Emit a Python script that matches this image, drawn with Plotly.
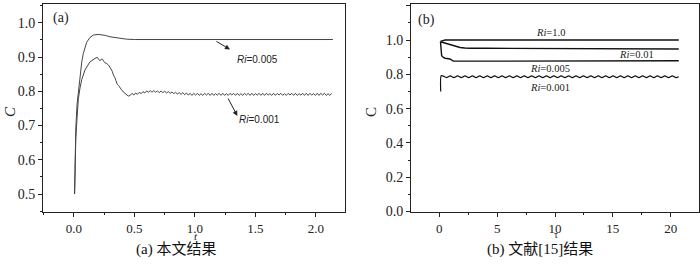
import plotly.graph_objects as go

# ---------------- Data: panel (a) ----------------
t_a005 = [0.005, 0.008, 0.015, 0.025, 0.036, 0.05, 0.064, 0.077, 0.09, 0.105, 0.132, 0.16, 0.2, 0.229,
          0.26, 0.298, 0.33, 0.366, 0.4, 0.435, 0.5, 1.0, 1.5, 2.14]
c_a005 = [0.50, 0.60, 0.69, 0.76, 0.80, 0.85, 0.885, 0.91, 0.928, 0.943, 0.957, 0.964, 0.966, 0.965,
          0.963, 0.959, 0.957, 0.955, 0.953, 0.952, 0.951, 0.951, 0.951, 0.951]

t_a001 = [0.005, 0.008, 0.015, 0.025, 0.036, 0.05, 0.064, 0.091, 0.132, 0.174, 0.193, 0.205, 0.215, 0.226,
          0.237, 0.247, 0.256, 0.27, 0.284, 0.298, 0.311, 0.318, 0.325, 0.332, 0.339, 0.346, 0.358,
          0.368, 0.38, 0.39, 0.408, 0.42, 0.435, 0.449,
          0.465, 0.48, 0.495, 0.51, 0.525, 0.54, 0.555, 0.57, 0.585, 0.6, 0.615, 0.63, 0.645, 0.66,
          0.675, 0.69, 0.705, 0.72, 0.735, 0.75, 0.765, 0.78, 0.795, 0.81, 0.825, 0.84, 0.855, 0.87,
          0.885, 0.9, 0.915, 0.93, 0.945, 0.96, 0.975, 0.99, 1.005, 1.02, 1.035, 1.05, 1.065, 1.08,
          1.095, 1.11, 1.125, 1.14, 1.155, 1.17, 1.185, 1.2, 1.215, 1.23, 1.245, 1.26, 1.275, 1.29,
          1.305, 1.32, 1.335, 1.35, 1.365, 1.38, 1.395, 1.41, 1.425, 1.44, 1.455, 1.47, 1.485, 1.5,
          1.515, 1.53, 1.545, 1.56, 1.575, 1.59, 1.605, 1.62, 1.635, 1.65, 1.665, 1.68, 1.695, 1.71,
          1.725, 1.74, 1.755, 1.77, 1.785, 1.8, 1.815, 1.83, 1.845, 1.86, 1.875, 1.89, 1.905, 1.92,
          1.935, 1.95, 1.965, 1.98, 1.995, 2.01, 2.025, 2.04, 2.055, 2.07, 2.085, 2.1, 2.115, 2.13]
c_a001 = [0.50, 0.58, 0.66, 0.72, 0.777, 0.81, 0.834, 0.862, 0.886, 0.896, 0.899, 0.893, 0.889, 0.894,
          0.893, 0.887, 0.883, 0.881, 0.877, 0.87, 0.862, 0.857, 0.848, 0.845, 0.839, 0.832, 0.82,
          0.817, 0.81, 0.806, 0.798, 0.795, 0.791, 0.786,
          0.788, 0.794, 0.789, 0.795, 0.791, 0.797, 0.793, 0.799, 0.795, 0.801, 0.797, 0.802, 0.797, 0.802,
          0.797, 0.801, 0.796, 0.801, 0.796, 0.800, 0.795, 0.799, 0.794, 0.798, 0.793, 0.797, 0.792, 0.796,
          0.791, 0.796, 0.790, 0.795, 0.789, 0.794, 0.788, 0.794, 0.789, 0.794, 0.788, 0.793, 0.788, 0.794,
          0.789, 0.794, 0.788, 0.794, 0.788, 0.793, 0.789, 0.794, 0.788, 0.794, 0.788, 0.793, 0.788, 0.794,
          0.789, 0.794, 0.788, 0.794, 0.788, 0.793, 0.788, 0.794, 0.789, 0.794, 0.788, 0.794, 0.788, 0.793,
          0.789, 0.794, 0.788, 0.794, 0.788, 0.794, 0.789, 0.793, 0.788, 0.794, 0.788, 0.794, 0.789, 0.794,
          0.788, 0.793, 0.788, 0.794, 0.789, 0.794, 0.788, 0.794, 0.788, 0.793, 0.789, 0.794, 0.788, 0.794,
          0.788, 0.794, 0.789, 0.793, 0.788, 0.794, 0.788, 0.794, 0.789, 0.794, 0.788, 0.793, 0.788, 0.794]

# ---------------- Data: panel (b) ----------------
tau_b10 = [0.1, 0.3, 0.5, 1.0, 20.7]
c_b10 = [0.992, 0.997, 1.0, 1.0, 1.0]

tau_b001 = [0.1, 0.35, 0.64, 0.92, 1.2, 1.5, 1.79, 2.2, 2.65, 4.0, 6.5, 6.6, 20.7]
c_b001 = [0.99, 0.985, 0.98, 0.972, 0.966, 0.961, 0.957, 0.954, 0.952, 0.952, 0.952, 0.948, 0.948]

tau_b0005 = [0.1, 0.13, 0.2, 0.35, 0.5, 0.92, 1.1, 1.21, 2.0, 3.4, 3.6, 20.7]
c_b0005 = [0.99, 0.95, 0.909, 0.899, 0.894, 0.89, 0.882, 0.877, 0.877, 0.877, 0.879, 0.879]

tau_b0001 = [0.12, 0.16, 0.3, 0.62, 0.94, 1.26, 1.58, 1.9, 2.22, 2.54, 2.86, 3.18, 3.5, 3.82, 4.14,
             4.46, 4.78, 5.1, 5.42, 5.74, 6.06, 6.38, 6.7, 7.02, 7.34, 7.66, 7.98, 8.3, 8.62, 8.94,
             9.26, 9.58, 9.9, 10.22, 10.54, 10.86, 11.18, 11.5, 11.82, 12.14, 12.46, 12.78, 13.1,
             13.42, 13.74, 14.06, 14.38, 14.7, 15.02, 15.34, 15.66, 15.98, 16.3, 16.62, 16.94, 17.26,
             17.58, 17.9, 18.22, 18.54, 18.86, 19.18, 19.5, 19.82, 20.14, 20.46, 20.7]
c_b0001 = [0.70, 0.792, 0.791, 0.781, 0.791, 0.781, 0.791, 0.781, 0.791, 0.781, 0.791, 0.781, 0.791,
           0.781, 0.791, 0.781, 0.791, 0.781, 0.791, 0.781, 0.791, 0.781, 0.791, 0.781, 0.791, 0.781,
           0.791, 0.781, 0.791, 0.781, 0.791, 0.781, 0.791, 0.781, 0.791, 0.781, 0.791, 0.781, 0.791,
           0.781, 0.791, 0.781, 0.791, 0.781, 0.791, 0.781, 0.791, 0.781, 0.791, 0.781, 0.791, 0.781,
           0.791, 0.781, 0.791, 0.781, 0.791, 0.781, 0.791, 0.781, 0.791, 0.781, 0.791, 0.781, 0.791,
           0.781, 0.786]

ticks_a_x = [0.0, 0.5, 1.0, 1.5, 2.0]
ticks_a_y = [0.5, 0.6, 0.7, 0.8, 0.9, 1.0]
ticks_b_x = [0, 5, 10, 15, 20]
ticks_b_y = [0.0, 0.2, 0.4, 0.6, 0.8, 1.0, 1.2]

# ---------------- Figure ----------------
W, H = 700, 264
SERIF = "Liberation Serif"
CJK = "Liberation Serif, Noto Sans CJK SC"
LCOL_A = "#454545"
LCOL_B = "#111111"

fig = go.Figure()
fig.add_trace(go.Scatter(x=t_a005, y=c_a005, mode="lines", line=dict(color=LCOL_A, width=1.0),
                         xaxis="x", yaxis="y"))
fig.add_trace(go.Scatter(x=t_a001, y=c_a001, mode="lines", line=dict(color=LCOL_A, width=1.0),
                         xaxis="x", yaxis="y"))
fig.add_trace(go.Scatter(x=tau_b10, y=c_b10, mode="lines", line=dict(color=LCOL_B, width=1.4),
                         xaxis="x2", yaxis="y2"))
fig.add_trace(go.Scatter(x=tau_b001, y=c_b001, mode="lines", line=dict(color=LCOL_B, width=1.4),
                         xaxis="x2", yaxis="y2"))
fig.add_trace(go.Scatter(x=tau_b0005, y=c_b0005, mode="lines", line=dict(color=LCOL_B, width=1.4),
                         xaxis="x2", yaxis="y2"))
fig.add_trace(go.Scatter(x=tau_b0001, y=c_b0001, mode="lines", line=dict(color=LCOL_B, width=1.2, shape="spline", smoothing=0.8),
                         xaxis="x2", yaxis="y2"))

def ax_common(**kw):
    d = dict(showgrid=False, zeroline=False, showline=True, mirror=True, linecolor="#222",
             linewidth=1, ticks="outside", ticklen=4, tickwidth=1, tickcolor="#222",
             tickfont=dict(family=SERIF, size=14, color="#222"))
    d.update(kw)
    return d

y0 = 1 - 218 / H
y1 = 1 - 4 / H
fig.update_layout(
    width=W, height=H, margin=dict(l=0, r=0, t=0, b=0),
    font=dict(family=SERIF),
    paper_bgcolor="white", plot_bgcolor="white", showlegend=False,
    xaxis=ax_common(domain=[43 / W, 345 / W], range=[-0.256, 2.24], tickvals=ticks_a_x,
                    ticktext=[f"{v:.1f}" for v in ticks_a_x], tickfont=dict(family=SERIF, size=13, color="#222"),
                    minor=dict(dtick=0.25, tick0=0, ticklen=2, ticks="outside", tickcolor="#222"),
                    anchor="y"),
    yaxis=ax_common(domain=[y0, y1], range=[0.447, 1.055], tickvals=ticks_a_y,
                    ticktext=[f"{v:.1f}" for v in ticks_a_y],
                    minor=dict(dtick=0.05, tick0=0, ticklen=2, ticks="outside", tickcolor="#222"),
                    anchor="x"),
    xaxis2=ax_common(domain=[411 / W, 699 / W], range=[-2.45, 22.45], tickvals=ticks_b_x,
                     ticktext=[str(v) for v in ticks_b_x], tickfont=dict(family=SERIF, size=13, color="#222"),
                     minor=dict(dtick=2.5, tick0=0, ticklen=2, ticks="outside", tickcolor="#222"),
                     anchor="y2"),
    yaxis2=ax_common(domain=[y0, y1], range=[-0.004, 1.211], tickvals=ticks_b_y,
                     ticktext=[f"{v:.1f}" for v in ticks_b_y],
                     minor=dict(dtick=0.1, tick0=0, ticklen=2, ticks="outside", tickcolor="#222"),
                     anchor="x2"),
)

ann = []
# panel labels
ann.append(dict(text="(a)", xref="paper", yref="paper", x=61 / W, y=1 - 19 / H, showarrow=False,
                font=dict(family=SERIF, size=14, color="#222"), xanchor="center", yanchor="middle"))
ann.append(dict(text="(b)", xref="paper", yref="paper", x=426 / W, y=1 - 21 / H, showarrow=False,
                font=dict(family=SERIF, size=14, color="#222"), xanchor="center", yanchor="middle"))
# axis titles
ann.append(dict(text="<i>C</i>", xref="paper", yref="paper", x=10 / W, y=1 - 115 / H, showarrow=False,
                textangle=-90, font=dict(family=SERIF, size=15, color="#222"), xanchor="center", yanchor="middle"))
ann.append(dict(text="C", xref="paper", yref="paper", x=371 / W, y=1 - 115 / H, showarrow=False,
                textangle=-90, font=dict(family=SERIF, size=15, color="#222"), xanchor="center", yanchor="middle"))
ann.append(dict(text="<i>t</i>", xref="paper", yref="paper", x=196 / W, y=1 - 242.5 / H, showarrow=False,
                font=dict(family=SERIF, size=11, color="#222"), xanchor="center", yanchor="middle",
                borderpad=0))
ann.append(dict(text="τ", xref="paper", yref="paper", x=556 / W, y=1 - 241 / H, showarrow=False,
                font=dict(family=SERIF, size=10, color="#222"), xanchor="center", yanchor="middle",
                borderpad=0))
# captions
ann.append(dict(text="(a) 本文结果", xref="paper", yref="paper", x=176 / W, y=1 - 256.5 / H, showarrow=False,
                font=dict(family=CJK, size=15, color="#111"), xanchor="center", yanchor="middle", borderpad=0))
ann.append(dict(text="(b) 文献[15]结果", xref="paper", yref="paper", x=540 / W, y=1 - 256.5 / H, showarrow=False,
                font=dict(family=CJK, size=15, color="#111"), xanchor="center", yanchor="middle", borderpad=0))
# curve labels panel (a), with arrows
ann.append(dict(text="", x=1.289, y=0.922, xref="x", yref="y", ax=-15, ay=-9, showarrow=True,
                arrowhead=2, arrowsize=1, arrowwidth=1, arrowcolor="#222"))
ann.append(dict(text="", x=1.35, y=0.728, xref="x", yref="y", ax=-10, ay=-19, showarrow=True,
                arrowhead=2, arrowsize=1, arrowwidth=1, arrowcolor="#222"))
ann.append(dict(text="<i>Ri</i>=0.005", x=1.52, y=0.893, xref="x", yref="y", showarrow=False,
                font=dict(family="Liberation Sans", size=10, color="#222")))
ann.append(dict(text="<i>Ri</i>=0.001", x=1.537, y=0.718, xref="x", yref="y", showarrow=False,
                font=dict(family="Liberation Sans", size=10, color="#222")))
# curve labels panel (b)
for txt, xx, yy in [("<i>Ri</i>=1.0", 9.57, 1.046), ("<i>Ri</i>=0.01", 17.07, 0.916),
                    ("<i>Ri</i>=0.005", 9.6, 0.836), ("<i>Ri</i>=0.001", 9.6, 0.722)]:
    ann.append(dict(text=txt, x=xx, y=yy, xref="x2", yref="y2", showarrow=False,
                    font=dict(family=SERIF, size=10.5, color="#222")))
fig.update_layout(annotations=ann)

fig.write_html("out.html")
